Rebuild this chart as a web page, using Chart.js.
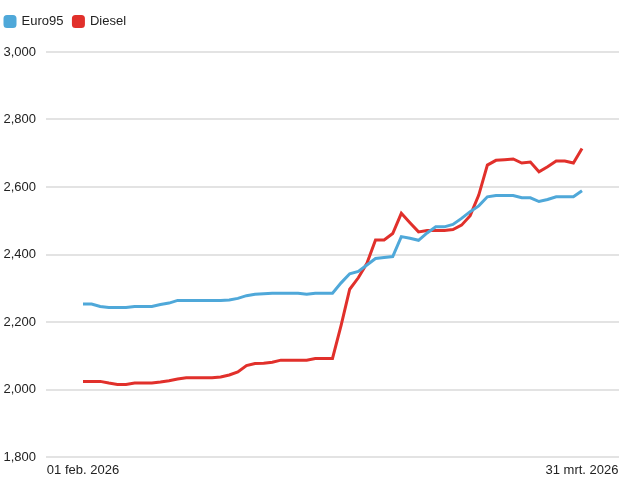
<!DOCTYPE html>
<html>
<head>
<meta charset="utf-8">
<script src="https://cdn.jsdelivr.net/npm/chart.js@4"></script>
<style>
  html, body { margin: 0; padding: 0; background: #fff; }
  #wrap { width: 626px; height: 481px; }
</style>
</head>
<body>
<div id="wrap"><canvas id="fuel"></canvas></div>
<script>
const dates = [
  '01 feb. 2026','02 feb. 2026','03 feb. 2026','04 feb. 2026','05 feb. 2026','06 feb. 2026','07 feb. 2026',
  '08 feb. 2026','09 feb. 2026','10 feb. 2026','11 feb. 2026','12 feb. 2026','13 feb. 2026','14 feb. 2026',
  '15 feb. 2026','16 feb. 2026','17 feb. 2026','18 feb. 2026','19 feb. 2026','20 feb. 2026','21 feb. 2026',
  '22 feb. 2026','23 feb. 2026','24 feb. 2026','25 feb. 2026','26 feb. 2026','27 feb. 2026','28 feb. 2026',
  '01 mrt. 2026','02 mrt. 2026','03 mrt. 2026','04 mrt. 2026','05 mrt. 2026','06 mrt. 2026','07 mrt. 2026',
  '08 mrt. 2026','09 mrt. 2026','10 mrt. 2026','11 mrt. 2026','12 mrt. 2026','13 mrt. 2026','14 mrt. 2026',
  '15 mrt. 2026','16 mrt. 2026','17 mrt. 2026','18 mrt. 2026','19 mrt. 2026','20 mrt. 2026','21 mrt. 2026',
  '22 mrt. 2026','23 mrt. 2026','24 mrt. 2026','25 mrt. 2026','26 mrt. 2026','27 mrt. 2026','28 mrt. 2026',
  '29 mrt. 2026','30 mrt. 2026','31 mrt. 2026'
];

const euro95 = [
  2253, 2253, 2246, 2243, 2243, 2243, 2246, 2246, 2246, 2252,
  2256, 2264, 2264, 2264, 2264, 2264, 2264, 2265, 2270, 2278,
  2282, 2284, 2285, 2285, 2285, 2285, 2282, 2285, 2285, 2285,
  2316, 2343, 2350, 2369, 2388, 2391, 2394, 2453, 2448, 2442,
  2464, 2482, 2482, 2489, 2507, 2527, 2544, 2571, 2575, 2575,
  2575, 2568, 2568, 2557, 2563, 2571, 2571, 2571, 2589
];

const diesel = [
  2024, 2024, 2024, 2019, 2015, 2015, 2019, 2019, 2019, 2022,
  2026, 2031, 2035, 2035, 2035, 2035, 2037, 2043, 2052, 2071,
  2077, 2078, 2081, 2087, 2087, 2087, 2087, 2092, 2092, 2092,
  2190, 2297, 2331, 2374, 2443, 2443, 2462, 2522, 2494, 2467,
  2471, 2471, 2471, 2474, 2487, 2515, 2576, 2665, 2679, 2681,
  2683, 2671, 2674, 2645, 2660, 2677, 2677, 2671, 2714
];

const yTicks = { min: 1800, max: 3000, step: 200 };

const blue = '#4fa8d9';
const red = '#e1302b';

Chart.defaults.font.family = "Arial, 'Liberation Sans', sans-serif";
Chart.defaults.font.size = 13;
Chart.defaults.color = '#222';

const toPoints = arr => arr.map((v, i) => ({ x: i, y: v }));

// extra room under the legend
const legendSpace = {
  id: 'legendSpace',
  beforeInit(chart) {
    const fit = chart.legend.fit;
    chart.legend.fit = function () {
      fit.bind(chart.legend)();
      this.height += 14;
    };
  }
};

new Chart(document.getElementById('fuel'), {
  type: 'line',
  data: {
    datasets: [
      {
        label: 'Euro95',
        data: toPoints(euro95),
        borderColor: blue,
        backgroundColor: blue,
        borderWidth: 3,
        pointRadius: 0,
        tension: 0
      },
      {
        label: 'Diesel',
        data: toPoints(diesel),
        borderColor: red,
        backgroundColor: red,
        borderWidth: 3,
        pointRadius: 0,
        tension: 0
      }
    ]
  },
  options: {
    responsive: true,
    maintainAspectRatio: false,
    animation: false,
    locale: 'en-US',
    layout: { padding: { left: -5, right: 7, top: 5, bottom: 0 } },
    plugins: {
      legend: {
        position: 'top',
        align: 'start',
        labels: {
          boxWidth: 10,
          boxHeight: 10,
          padding: 10,
          useBorderRadius: true,
          borderRadius: 2
        }
      },
      tooltip: { enabled: false }
    },
    scales: {
      x: {
        type: 'linear',
        min: -4.3,
        max: dates.length - 1 + 4.3,
        afterBuildTicks: scale => {
          scale.ticks = [{ value: 0 }, { value: dates.length - 1 }];
        },
        afterFit: scale => { scale.height = 24; },
        ticks: {
          autoSkip: false,
          maxRotation: 0,
          padding: 6,
          callback: v => dates[v]
        },
        grid: { display: false, drawTicks: false },
        border: { display: false }
      },
      y: {
        min: yTicks.min,
        max: yTicks.max,
        afterFit: scale => { scale.width = 51; },
        ticks: {
          stepSize: yTicks.step,
          padding: 10
        },
        grid: { color: '#e3e3e3', lineWidth: 2, drawTicks: false },
        border: { display: false }
      }
    }
  },
  plugins: [legendSpace]
});
</script>
</body>
</html>
